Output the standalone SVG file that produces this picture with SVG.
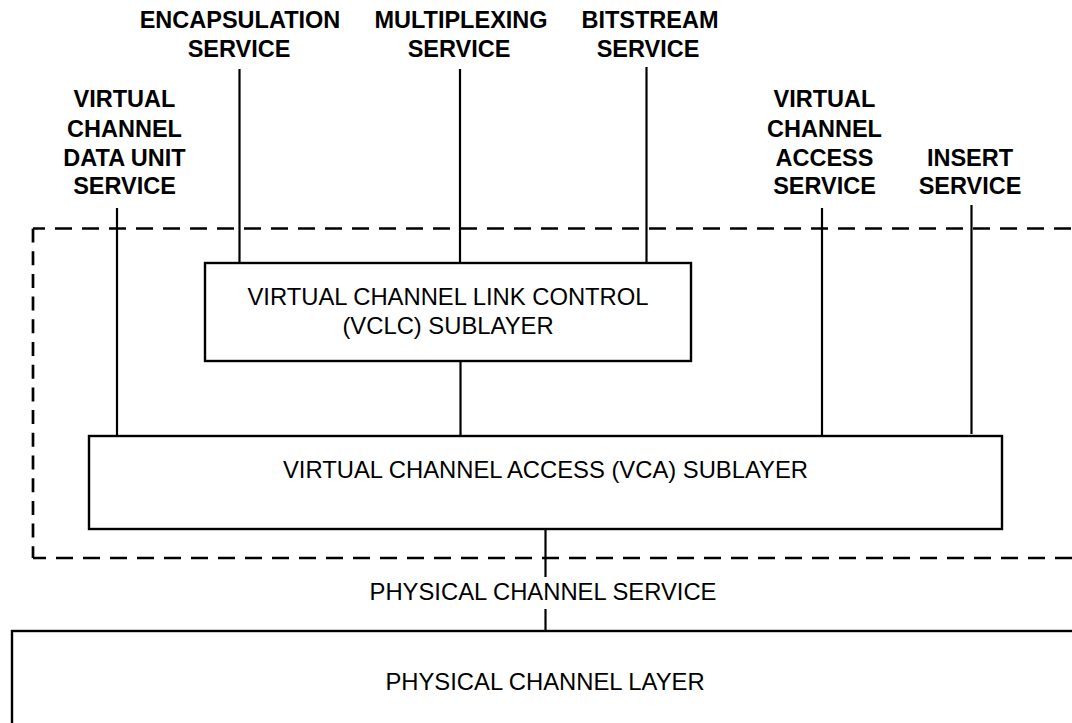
<svg xmlns="http://www.w3.org/2000/svg" width="1072" height="723" viewBox="0 0 1072 723">
  <style>
    .bg { fill: #ffffff; }
    .box { fill: #ffffff; stroke: #000000; stroke-width: 2.4; }
    .link { stroke: #000000; stroke-width: 2.2; fill: none; }
    .bound { stroke: #000000; stroke-width: 2.7; fill: none; }
    .svc { font-family: "Liberation Sans", Arial, Helvetica, sans-serif; font-weight: bold; font-size: 23.5px; text-anchor: middle; fill: #000000; }
    .lbl { font-family: "Liberation Sans", Arial, Helvetica, sans-serif; font-size: 23.8px; text-anchor: middle; fill: #000000; }
  </style>

  <rect class="bg" x="0" y="0" width="1072" height="723"/>

  <!-- data link protocol sublayer boundary (open to the right) -->
  <g id="boundary">
    <line class="bound" x1="33" y1="228.5" x2="1080" y2="228.5" stroke-dasharray="17 10" stroke-dashoffset="5"/>
    <line class="bound" x1="33" y1="228.5" x2="33" y2="558" stroke-dasharray="14 8.7"/>
    <line class="bound" x1="33" y1="558" x2="1080" y2="558" stroke-dasharray="17 10" stroke-dashoffset="4"/>
  </g>

  <!-- service access points and inter-layer links -->
  <g id="connectors">
    <line class="link" x1="239.5" y1="69" x2="239.5" y2="263"/>
    <line class="link" x1="460" y1="69" x2="460" y2="263"/>
    <line class="link" x1="646.5" y1="67" x2="646.5" y2="263"/>
    <line class="link" x1="117" y1="208" x2="117" y2="436"/>
    <line class="link" x1="822" y1="208" x2="822" y2="436"/>
    <line class="link" x1="971.5" y1="205" x2="971.5" y2="434"/>
    <line class="link" x1="460.5" y1="361" x2="460.5" y2="436"/>
    <line class="link" x1="545.5" y1="529" x2="545.5" y2="577"/>
    <line class="link" x1="545.5" y1="609" x2="545.5" y2="631"/>
  </g>

  <g id="encapsulation-service">
    <text class="svc" x="240" y="28">ENCAPSULATION</text>
    <text class="svc" x="239" y="57">SERVICE</text>
  </g>

  <g id="multiplexing-service">
    <text class="svc" x="461" y="28">MULTIPLEXING</text>
    <text class="svc" x="459" y="57">SERVICE</text>
  </g>

  <g id="bitstream-service">
    <text class="svc" x="650" y="28">BITSTREAM</text>
    <text class="svc" x="648" y="57">SERVICE</text>
  </g>

  <g id="vc-data-unit-service">
    <text class="svc" x="124.5" y="107">VIRTUAL</text>
    <text class="svc" x="124.5" y="137">CHANNEL</text>
    <text class="svc" x="124.5" y="166">DATA UNIT</text>
    <text class="svc" x="124.5" y="194">SERVICE</text>
  </g>

  <g id="vc-access-service">
    <text class="svc" x="824.5" y="107">VIRTUAL</text>
    <text class="svc" x="824.5" y="137">CHANNEL</text>
    <text class="svc" x="824.5" y="166">ACCESS</text>
    <text class="svc" x="824.5" y="194">SERVICE</text>
  </g>

  <g id="insert-service">
    <text class="svc" x="970" y="166">INSERT</text>
    <text class="svc" x="970" y="194">SERVICE</text>
  </g>

  <g id="vclc-sublayer">
    <rect class="box" x="205" y="263" width="486" height="98"/>
    <text class="lbl" x="448" y="305">VIRTUAL CHANNEL LINK CONTROL</text>
    <text class="lbl" x="448" y="334">(VCLC) SUBLAYER</text>
  </g>

  <g id="vca-sublayer">
    <rect class="box" x="89" y="436" width="913" height="93"/>
    <text class="lbl" x="545.5" y="478">VIRTUAL CHANNEL ACCESS (VCA) SUBLAYER</text>
  </g>

  <g id="physical-channel-service">
    <text class="lbl" x="543" y="600">PHYSICAL CHANNEL SERVICE</text>
  </g>

  <g id="physical-channel-layer">
    <rect class="box" x="12" y="631" width="1100" height="150"/>
    <text class="lbl" x="545" y="690">PHYSICAL CHANNEL LAYER</text>
  </g>
</svg>
